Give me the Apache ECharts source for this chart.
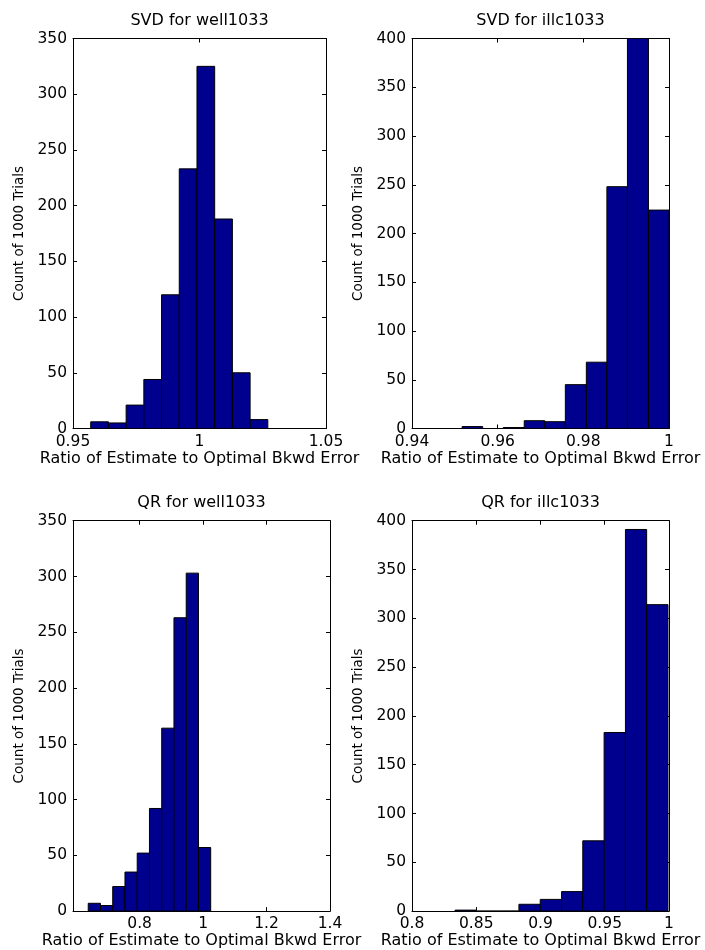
<!DOCTYPE html>
<html>
<head>
<meta charset="utf-8">
<script src="https://cdn.jsdelivr.net/npm/echarts@6/dist/echarts.min.js"></script>
<style>
html,body{margin:0;padding:0;background:#fff;}
#chart{width:705px;height:950px;}
</style>
</head>
<body>
<div id="chart"></div>
<script>
// ---- Data ----
const titles = ['SVD for well1033', 'SVD for illc1033', 'QR for well1033', 'QR for illc1033'];
const xName = 'Ratio of Estimate to Optimal Bkwd Error';
const yName = 'Count of 1000 Trials';

// bin edges (11 each) and counts (10 each)
const svdWellEdges = [0.957, 0.964, 0.971, 0.978, 0.985, 0.992, 0.999, 1.006, 1.013, 1.020, 1.027];
const svdWellCounts = [6, 5, 21, 44, 120, 233, 325, 188, 50, 8];

const svdIllcEdges = [0.9517, 0.9565, 0.9613, 0.9662, 0.9710, 0.9758, 0.9807, 0.9855, 0.9903, 0.9952, 1.0000];
const svdIllcCounts = [2, 0, 1, 8, 7, 45, 68, 248, 400, 224];

const qrWellEdges = [0.638, 0.6766, 0.7152, 0.7538, 0.7924, 0.831, 0.8696, 0.9082, 0.9468, 0.9854, 1.024];
const qrWellCounts = [7, 5, 22, 35, 52, 92, 164, 263, 303, 57];

const qrIllcEdges = [0.8335, 0.8501, 0.8667, 0.8832, 0.8998, 0.9164, 0.9329, 0.9495, 0.9661, 0.9826, 0.9992];
const qrIllcCounts = [1, 0, 0, 7, 12, 20, 72, 183, 391, 314];

// axis ranges and tick labels
const xMins = [0.95, 0.94, 0.59, 0.8];
const xMaxs = [1.05, 1.0, 1.4, 1.0];
const xTicks = [
  [0.95, 1, 1.05],
  [0.94, 0.96, 0.98, 1],
  [0.8, 1, 1.2, 1.4],
  [0.8, 0.85, 0.9, 0.95, 1]
];
const yMaxs = [350, 400, 350, 400];
const yStep = 50;

// ---- Layout ----
const grids = [
  {left: 73, top: 38.5, width: 253, height: 390},
  {left: 412, top: 38.5, width: 257, height: 390},
  {left: 73, top: 520.7, width: 257, height: 391},
  {left: 412, top: 520.7, width: 257, height: 391}
];
const titleTops = [13, 13, 495, 495];

const allEdges = [svdWellEdges, svdIllcEdges, qrWellEdges, qrIllcEdges];
const allCounts = [svdWellCounts, svdIllcCounts, qrWellCounts, qrIllcCounts];

const FONT = 'DejaVu Sans';
const BAR = '#00008F';

const option = {
  backgroundColor: '#fff',
  animation: false,
  title: [],
  grid: [],
  xAxis: [],
  yAxis: [],
  series: []
};

function fmt(v) { return String(Math.round(v * 1000) / 1000); }

for (let i = 0; i < 4; i++) {
  const g = grids[i];
  option.grid.push({left: g.left, top: g.top, width: g.width, height: g.height, containLabel: false});
  option.title.push({
    text: titles[i],
    left: g.left + g.width / 2,
    top: titleTops[i],
    textAlign: 'center',
    padding: 0,
    textStyle: {fontFamily: FONT, fontSize: 16, fontWeight: 'normal', color: '#000'}
  });
  const axLine = {show: true, onZero: false, lineStyle: {color: '#000', width: 1}};
  // bottom x axis
  option.xAxis.push({
    type: 'value', gridIndex: i, position: 'bottom',
    min: xMins[i], max: xMaxs[i],
    axisLine: axLine,
    axisTick: {show: true, inside: true, length: 4, customValues: xTicks[i], lineStyle: {color: '#000'}},
    axisLabel: {show: true, customValues: xTicks[i], margin: 5, color: '#000', fontFamily: FONT, fontSize: 15.5, formatter: fmt},
    splitLine: {show: false},
    name: xName, nameLocation: 'middle', nameGap: 21,
    nameTextStyle: {fontFamily: FONT, fontSize: 16, color: '#000'}
  });
  // top x axis (box + mirrored ticks)
  option.xAxis.push({
    type: 'value', gridIndex: i, position: 'top',
    min: xMins[i], max: xMaxs[i],
    axisLine: axLine,
    axisTick: {show: true, inside: true, length: 4, customValues: xTicks[i], lineStyle: {color: '#000'}},
    axisLabel: {show: false},
    splitLine: {show: false}
  });
  // left y axis
  option.yAxis.push({
    type: 'value', gridIndex: i, position: 'left',
    min: 0, max: yMaxs[i], interval: yStep,
    axisLine: axLine,
    axisTick: {show: true, inside: true, length: 4, lineStyle: {color: '#000'}},
    axisLabel: {show: true, margin: 6, color: '#000', fontFamily: FONT, fontSize: 15.5},
    splitLine: {show: false},
    name: yName, nameLocation: 'middle', nameGap: 47, nameRotate: 90,
    nameTextStyle: {fontFamily: FONT, fontSize: 13.5, color: '#000'}
  });
  // right y axis
  option.yAxis.push({
    type: 'value', gridIndex: i, position: 'right',
    min: 0, max: yMaxs[i], interval: yStep,
    axisLine: axLine,
    axisTick: {show: true, inside: true, length: 4, lineStyle: {color: '#000'}},
    axisLabel: {show: false},
    splitLine: {show: false}
  });

  const edges = allEdges[i];
  const counts = allCounts[i];
  const data = counts.map((c, k) => [edges[k], edges[k + 1], c]);
  option.series.push({
    type: 'custom',
    xAxisIndex: i * 2,
    yAxisIndex: i * 2,
    clip: true,
    data: data,
    encode: {x: [0, 1], y: 2},
    renderItem: function (params, api) {
      const p0 = api.coord([api.value(0), api.value(2)]);
      const p1 = api.coord([api.value(1), 0]);
      return {
        type: 'rect',
        shape: {x: p0[0], y: p0[1], width: p1[0] - p0[0], height: p1[1] - p0[1]},
        style: {fill: BAR, stroke: '#000', lineWidth: 1}
      };
    }
  });
}

const chart = echarts.init(document.getElementById('chart'), null, {renderer: 'canvas'});
chart.setOption(option);
</script>
</body>
</html>
